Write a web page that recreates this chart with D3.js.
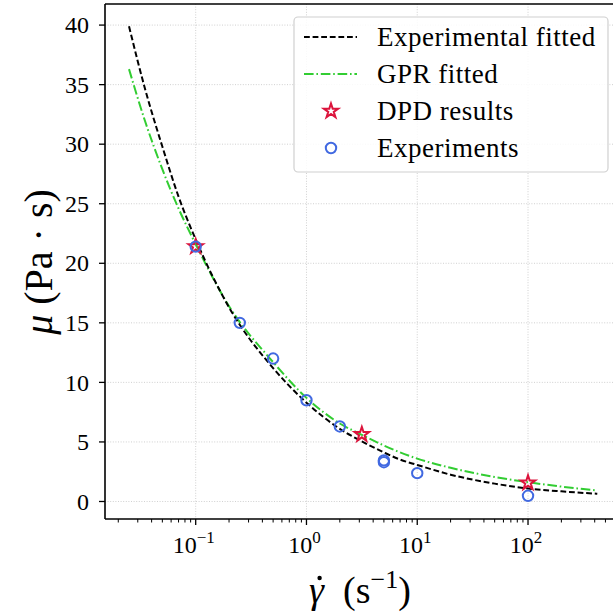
<!DOCTYPE html>
<html>
<head>
<meta charset="utf-8">
<script src="https://cdn.jsdelivr.net/npm/d3@7/dist/d3.min.js"></script>
<style>
  html, body { margin: 0; padding: 0; background: #fff; overflow: hidden; }
  svg text { font-family: "Liberation Serif", "DejaVu Serif", serif; fill: #000; }
</style>
</head>
<body>
<div id="chart"></div>
<script>
// data
var fitX = [0.025, 0.035, 0.05, 0.07, 0.1, 0.2, 0.5, 1, 2, 3.16, 5, 7, 10, 20, 50, 100, 200, 422];
var expFitY = [39.9, 34.6, 29.8, 25.6, 22.0, 16.3, 11.2, 8.3, 6.1, 5.05, 4.12, 3.52, 3.07, 2.25, 1.5, 1.09, 0.85, 0.65];
var gprFitY = [36.3, 31.9, 27.9, 24.6, 21.6, 16.4, 11.7, 8.7, 6.55, 5.6, 4.7, 4.12, 3.6, 2.83, 2.06, 1.62, 1.25, 0.92];
var dpdX = [0.1, 3.16, 100];
var dpdY = [21.4, 5.63, 1.57];
var expX = [0.1, 0.25, 0.5, 1, 2, 5, 5, 10, 100];
var expY = [21.4, 15.0, 12.0, 8.5, 6.3, 3.45, 3.3, 2.38, 0.48];
var yTicks = [0, 5, 10, 15, 20, 25, 30, 35, 40];
var xTicks = [0.1, 1, 10, 100];
var xTickExp = ['\u22121', '0', '1', '2'];
var legendNames = ['Experimental fitted', 'GPR fitted', 'DPD results', 'Experiments'];

var W = 613, H = 616;
var margin = {left: 105, top: 4, right: 613, bottom: 519};

var svg = d3.select('#chart').append('svg')
    .attr('width', W)
    .attr('height', H);

var x = d3.scaleLog()
    .domain([0.01518, 585])
    .range([margin.left, margin.right]);
var y = d3.scaleLinear()
    .domain([-1.47, 41.77])
    .range([margin.bottom, margin.top]);

// grid
var grid = svg.append('g');
grid.selectAll('.gx').data(xTicks).enter().append('line')
    .attr('x1', function (d) { return x(d); })
    .attr('x2', function (d) { return x(d); })
    .attr('y1', margin.top).attr('y2', margin.bottom)
    .style('stroke', '#c4c4c4').style('stroke-width', 0.8)
    .style('stroke-dasharray', '1,1.6');
grid.selectAll('.gy').data(yTicks).enter().append('line')
    .attr('y1', function (d) { return y(d); })
    .attr('y2', function (d) { return y(d); })
    .attr('x1', margin.left).attr('x2', margin.right)
    .style('stroke', '#c4c4c4').style('stroke-width', 0.8)
    .style('stroke-dasharray', '1,1.6');

// fitted curves
var expData = d3.zip(fitX, expFitY);
var gprData = d3.zip(fitX, gprFitY);
var line = d3.line()
    .x(function (d) { return x(d[0]); })
    .y(function (d) { return y(d[1]); })
    .curve(d3.curveMonotoneX);

svg.append('path')
    .attr('d', line(gprData))
    .style('fill', 'none')
    .style('stroke', '#32cd32')
    .style('stroke-width', 2)
    .style('stroke-dasharray', '9.6,2.8,1.6,2.8');
svg.append('path')
    .attr('d', line(expData))
    .style('fill', 'none')
    .style('stroke', '#000')
    .style('stroke-width', 2)
    .style('stroke-dasharray', '5.8,2.8');

// markers
var star = d3.symbol().type(d3.symbolStar).size(64);
svg.append('g').selectAll('path')
    .data(d3.zip(dpdX, dpdY))
    .enter().append('path')
    .attr('d', star)
    .attr('transform', function (d) { return 'translate(' + x(d[0]) + ',' + y(d[1]) + ')'; })
    .style('fill', 'none')
    .style('stroke', '#dc143c')
    .style('stroke-width', 2);

svg.append('g').selectAll('circle')
    .data(d3.zip(expX, expY))
    .enter().append('circle')
    .attr('cx', function (d) { return x(d[0]); })
    .attr('cy', function (d) { return y(d[1]); })
    .attr('r', 5.2)
    .style('fill', 'none')
    .style('stroke', '#4169e1')
    .style('stroke-width', 2);

// axes frame
var frame = svg.append('g').style('stroke', '#000').style('stroke-width', 1.6).style('fill', 'none');
frame.append('line').attr('x1', margin.left).attr('x2', margin.left).attr('y1', margin.top).attr('y2', margin.bottom);
frame.append('line').attr('x1', margin.left).attr('x2', W).attr('y1', margin.bottom).attr('y2', margin.bottom);
frame.append('line').attr('x1', margin.left).attr('x2', W).attr('y1', margin.top).attr('y2', margin.top);

// x ticks
var minor = [];
[0.01, 0.1, 1, 10, 100].forEach(function (p) {
    for (var k = 2; k <= 9; k++) {
        var v = p * k;
        if (v > x.domain()[0] && v < x.domain()[1]) minor.push(v);
    }
});
svg.append('g').selectAll('line').data(minor).enter().append('line')
    .attr('x1', function (d) { return x(d); }).attr('x2', function (d) { return x(d); })
    .attr('y1', margin.bottom).attr('y2', margin.bottom + 3.5)
    .style('stroke', '#000').style('stroke-width', 1);
svg.append('g').selectAll('line').data(xTicks).enter().append('line')
    .attr('x1', function (d) { return x(d); }).attr('x2', function (d) { return x(d); })
    .attr('y1', margin.bottom).attr('y2', margin.bottom + 6)
    .style('stroke', '#000').style('stroke-width', 1.3);

var xl = svg.append('g').selectAll('text').data(xTicks).enter().append('text')
    .attr('x', function (d) { return x(d) - 2; })
    .attr('y', 553)
    .attr('text-anchor', 'middle')
    .style('font-size', '24px');
xl.append('tspan').text('10');
xl.append('tspan').attr('dy', -10).style('font-size', '17px').text(function (d, i) { return xTickExp[i]; });

// y ticks
svg.append('g').selectAll('line').data(yTicks).enter().append('line')
    .attr('x1', margin.left - 6).attr('x2', margin.left)
    .attr('y1', function (d) { return y(d); }).attr('y2', function (d) { return y(d); })
    .style('stroke', '#000').style('stroke-width', 1.3);
svg.append('g').selectAll('text').data(yTicks).enter().append('text')
    .attr('x', 89)
    .attr('y', function (d) { return y(d); })
    .attr('dy', '0.34em')
    .attr('text-anchor', 'end')
    .style('font-size', '24px')
    .text(function (d) { return d; });

// axis titles
var xt = svg.append('text')
    .attr('x', 360).attr('y', 603)
    .attr('text-anchor', 'middle')
    .style('font-size', '38px');
var gam = xt.append('tspan').style('font-style', 'italic').text('\u03b3');
xt.append('tspan').text('\u2002(s');
xt.append('tspan').attr('dy', -15).style('font-size', '26px').text('\u22121');
xt.append('tspan').attr('dy', 15).text(')');
// dot over gamma
var g0 = xt.node().getStartPositionOfChar(0);
var g1 = xt.node().getEndPositionOfChar(0);
svg.append('circle')
    .attr('cx', (g0.x + g1.x) / 2 + 3)
    .attr('cy', 603 - 25)
    .attr('r', 2.2)
    .style('fill', '#000');

var yt = svg.append('text')
    .attr('transform', 'translate(52,262) rotate(-90)')
    .attr('text-anchor', 'middle')
    .style('font-size', '40px');
yt.append('tspan').style('font-style', 'italic').text('\u03bc');
yt.append('tspan').text(' (Pa \u00b7 s)');

// legend
var lg = svg.append('g');
lg.append('rect')
    .attr('x', 294).attr('y', 17).attr('width', 314).attr('height', 155)
    .attr('rx', 4)
    .style('fill', 'rgba(255,255,255,0.85)')
    .style('stroke', '#d0d0d0').style('stroke-width', 1.2);
var rowY = [37, 74, 111, 148];
lg.append('line').attr('x1', 304).attr('x2', 357).attr('y1', rowY[0]).attr('y2', rowY[0])
    .style('stroke', '#000').style('stroke-width', 2).style('stroke-dasharray', '5.8,2.8');
lg.append('line').attr('x1', 304).attr('x2', 357).attr('y1', rowY[1]).attr('y2', rowY[1])
    .style('stroke', '#32cd32').style('stroke-width', 2).style('stroke-dasharray', '9.6,2.8,1.6,2.8');
lg.append('path').attr('d', star).attr('transform', 'translate(331,' + rowY[2] + ')')
    .style('fill', 'none').style('stroke', '#dc143c').style('stroke-width', 2);
lg.append('circle').attr('cx', 331).attr('cy', rowY[3]).attr('r', 5.2)
    .style('fill', 'none').style('stroke', '#4169e1').style('stroke-width', 2);
lg.selectAll('text').data(legendNames).enter().append('text')
    .attr('x', 377)
    .attr('y', function (d, i) { return rowY[i]; })
    .attr('dy', '0.34em')
    .style('font-size', '27px')
    .style('letter-spacing', '0.5px')
    .text(function (d) { return d; });
</script>
</body>
</html>
